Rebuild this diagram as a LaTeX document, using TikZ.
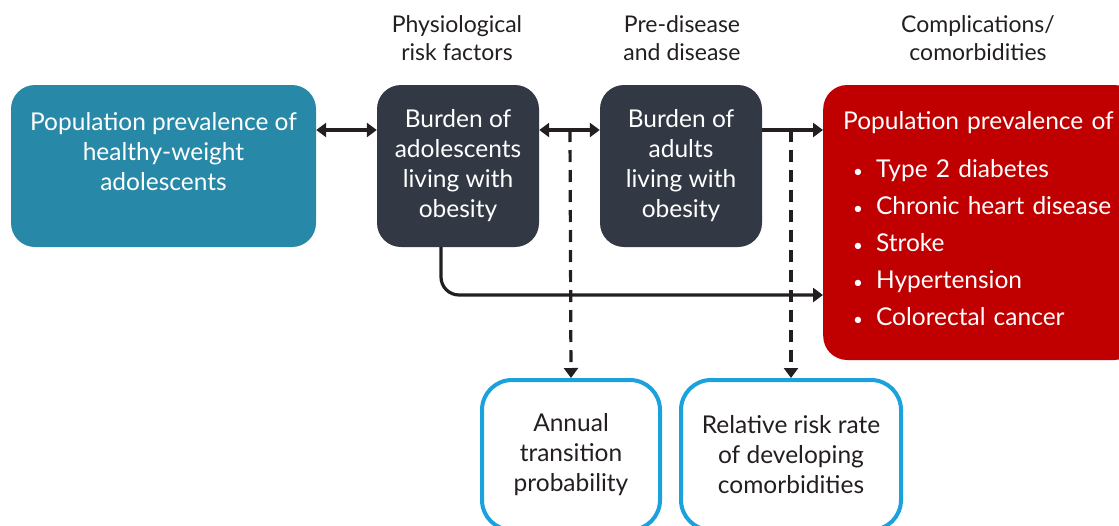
\documentclass[tikz,border=0pt]{standalone}
\usepackage{fontspec}
\setmainfont{Lato}
\usetikzlibrary{arrows.meta}

\definecolor{tealbox}{HTML}{2789A7}
\definecolor{slatebox}{HTML}{333944}
\definecolor{redbox}{HTML}{C00000}
\definecolor{skyline}{HTML}{1BA1DC}
\definecolor{inkgray}{HTML}{231F20}

\newcommand{\dotitem}{\hspace*{10pt}{\fontsize{17}{17}\selectfont\textbullet}\hspace{13pt}}

\tikzset{
  box/.style={rounded corners=24pt, text=white, align=center, inner sep=0pt,
    font=\fontsize{24.5}{30}\selectfont},
  outbox/.style={draw=skyline, line width=4pt, rounded corners=30pt, fill=white,
    text=inkgray, align=center, inner sep=0pt, font=\fontsize{24.5}{30}\selectfont},
  head/.style={align=center, text=inkgray, font=\fontsize{23}{28}\selectfont},
  link/.style={line width=3.2pt, draw=inkgray, -{Triangle[length=10pt,width=14pt]}},
  both/.style={link, {Triangle[length=10pt,width=14pt]}-{Triangle[length=10pt,width=14pt]}},
  tap/.style={link, dash pattern=on 12pt off 8pt},
}

\begin{document}
\begin{tikzpicture}[x=1pt,y=-1pt]
\clip (0,0) rectangle (1119,525);

% -- column heads
\node[head] (hrisk) at (457,38) {Physiological\\risk factors};
\node[head] (hdis) at (682,38) {Pre-disease\\and disease};
\node[head] (hcomp) at (978,38) {Complications/\\comorbidities};

% -- top row
\node[box,fill=tealbox,minimum width=305pt,minimum height=162pt] (healthy) at (163.5,166)
  {Population prevalence of\\healthy-weight\\adolescents\\\mbox{}};
\node[box,fill=slatebox,minimum width=162pt,minimum height=162pt] (adol) at (458,166)
  {Burden of\\adolescents\\living with\\obesity};
\node[box,fill=slatebox,minimum width=162pt,minimum height=162pt] (adult) at (681,166)
  {Burden of\\adults\\living with\\obesity};
\node[box,fill=redbox,anchor=west,inner xsep=20pt,text width=275pt,align=left,
  minimum height=275pt] (comorb) at (823,222.5)
  {Population prevalence of\\[18pt]
   \dotitem Type 2 diabetes\\[7pt]
   \dotitem Chronic heart disease\\[7pt]
   \dotitem Stroke\\[7pt]
   \dotitem Hypertension\\[7pt]
   \dotitem Colorectal cancer\\[-22pt]\mbox{}};

% -- bottom row
\node[outbox,minimum width=178pt,minimum height=150pt] (trans) at (571,455)
  {Annual\\transition\\probability};
\node[outbox,minimum width=220pt,minimum height=150pt] (rrisk) at (791,455)
  {Relative risk rate\\of developing\\comorbidities};

% -- draw arrows
\coordinate (row) at (0,130);
\coordinate (tap1) at (570,130);
\coordinate (tap2) at (791,130);
\coordinate (low) at (441,295);

\draw[both] (healthy.east |- row) -- (adol.west |- row);
\draw[both] (adol.east |- row) -- (adult.west |- row);
\draw[link] (adult.east |- row) -- (comorb.west |- row);

\draw[tap] (tap1) -- (trans.north);
\draw[tap] (tap2) -- (rrisk.north);

\draw[link,rounded corners=18pt] (adol.south -| low) -- (low) -- (comorb.west |- low);
\end{tikzpicture}
\end{document}
